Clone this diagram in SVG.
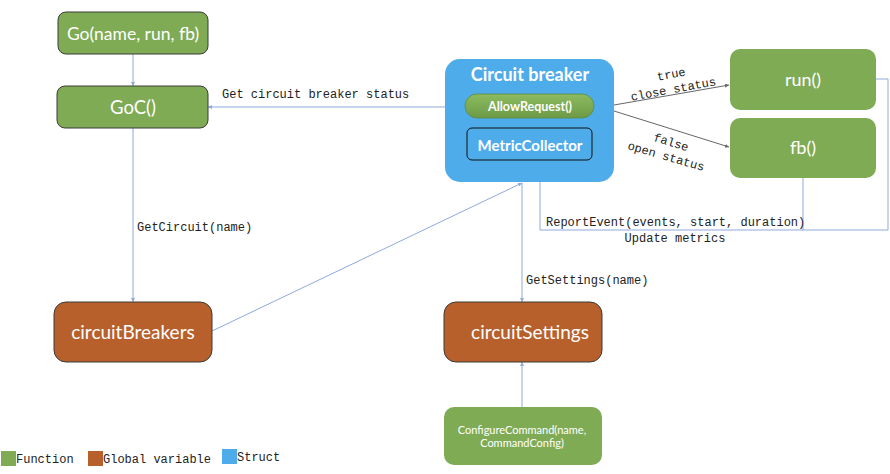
<svg xmlns="http://www.w3.org/2000/svg" width="890" height="474" viewBox="0 0 890 474">
<style>
.fn{fill:#7fab55}
.gv{fill:#b8602b}
.st{fill:#4eacea}
.ol{stroke:#3a3a3a;stroke-width:1}
.nt{font-family:Lato,"Open Sans","Liberation Sans",sans-serif;fill:#fff;text-anchor:middle}
.mono{font-family:"Liberation Mono","Courier New",monospace;font-size:12px;fill:#222}
.c{fill:none;stroke:#8ea9dc;stroke-width:1}
.g{fill:none;stroke:#666;stroke-width:1}
</style>
<defs>
<marker id="ab" viewBox="0 0 6 6" refX="6" refY="3" markerWidth="4" markerHeight="4" orient="auto"><path d="M0,0L6,3L0,6z" fill="#8ea9dc"/></marker>
<marker id="ag" viewBox="0 0 6 6" refX="6" refY="3" markerWidth="4" markerHeight="4" orient="auto"><path d="M0,0L6,3L0,6z" fill="#666"/></marker>
<linearGradient id="pill" x1="0" y1="0" x2="0" y2="1"><stop offset="0" stop-color="#8cbb60"/><stop offset="1" stop-color="#6e9a47"/></linearGradient>
</defs>
<rect width="890" height="474" fill="#fff"/>
<g id="connectors">
<line class="c" x1="133" y1="54" x2="133" y2="86" marker-end="url(#ab)"/>
<line class="c" x1="465" y1="107" x2="208" y2="107" marker-end="url(#ab)"/>
<line class="c" x1="133" y1="128" x2="133" y2="302" marker-end="url(#ab)"/>
<line class="c" x1="212" y1="331" x2="522" y2="183" marker-end="url(#ab)"/>
<line class="c" x1="522" y1="183" x2="522" y2="302" marker-end="url(#ab)"/>
<line class="c" x1="522" y1="407" x2="522" y2="362" marker-end="url(#ab)"/>
<polyline class="c" points="803,178 803,230 540,230 540,160" marker-end="url(#ab)"/>
<polyline class="c" points="876,79 888,79 888,230 803,230"/>
<line class="g" x1="614" y1="105" x2="729" y2="85" marker-end="url(#ag)"/>
<line class="g" x1="614" y1="111" x2="729" y2="147" marker-end="url(#ag)"/>
<text class="mono" x="222" y="98">Get circuit breaker status</text>
<text class="mono" x="137" y="231">GetCircuit(name)</text>
<text class="mono" x="526" y="284">GetSettings(name)</text>
<text class="mono" x="546" y="226">ReportEvent(events, start, duration)</text>
<text class="mono" x="675" y="242" text-anchor="middle">Update metrics</text>
<text class="mono" text-anchor="middle" transform="translate(672,78) rotate(-11)">true</text>
<text class="mono" text-anchor="middle" transform="translate(674,93) rotate(-10.5)">close status</text>
<text class="mono" text-anchor="middle" transform="translate(670,146) rotate(17)">false</text>
<text class="mono" text-anchor="middle" transform="translate(665,160) rotate(16)">open status</text>
</g>
<g id="go">
<rect class="fn ol" x="58" y="12" width="150" height="42" rx="8"/>
<text class="nt" x="133" y="40" font-size="17.5">Go(name, run, fb)</text>
</g>
<g id="goc">
<rect class="fn ol" x="57" y="86" width="151" height="42" rx="8"/>
<text class="nt" x="133" y="114" font-size="18.5">GoC()</text>
</g>
<g id="circuitBreakers">
<rect class="gv ol" x="54" y="302" width="158" height="60" rx="12"/>
<text class="nt" x="133" y="339" font-size="19">circuitBreakers</text>
</g>
<g id="circuitSettings">
<rect class="gv ol" x="444" y="302" width="158" height="60" rx="12"/>
<text class="nt" x="530" y="339" font-size="19">circuitSettings</text>
</g>
<g id="configureCommand">
<rect class="fn" x="444" y="407" width="158" height="58" rx="10"/>
<text class="nt" x="522" y="434" font-size="11">ConfigureCommand(name,</text>
<text class="nt" x="522" y="447" font-size="11">CommandConfig)</text>
</g>
<g id="circuitBreaker">
<rect class="st" x="445" y="59" width="169" height="123" rx="15"/>
<text class="nt" x="530" y="81" font-size="18" font-weight="bold">Circuit breaker</text>
<g id="allowRequest">
<rect x="465" y="94" width="129" height="24" rx="12" fill="url(#pill)" stroke="#5d8a3c" stroke-width="0.8"/>
<text class="nt" x="530" y="111" font-size="12.5" font-weight="bold">AllowRequest()</text>
</g>
<g id="metricCollector">
<rect class="st" x="467" y="128" width="125" height="32" rx="5" stroke="#111" stroke-width="1"/>
<text class="nt" x="530" y="151" font-size="15" font-weight="bold">MetricCollector</text>
</g>
</g>
<g id="run">
<rect class="fn" x="730" y="49" width="146" height="61" rx="10"/>
<text class="nt" x="803" y="86" font-size="18">run()</text>
</g>
<g id="fb">
<rect class="fn" x="730" y="118" width="146" height="60" rx="10"/>
<text class="nt" x="803" y="154" font-size="18">fb()</text>
</g>
<g id="legend">
<rect class="fn" x="1" y="451" width="15" height="15"/>
<text class="mono" x="16" y="463">Function</text>
<rect class="gv" x="88" y="451" width="15" height="15"/>
<text class="mono" x="103" y="463">Global variable</text>
<rect class="st" x="222" y="449" width="15" height="15"/>
<text class="mono" x="237" y="461">Struct</text>
</g>
</svg>
